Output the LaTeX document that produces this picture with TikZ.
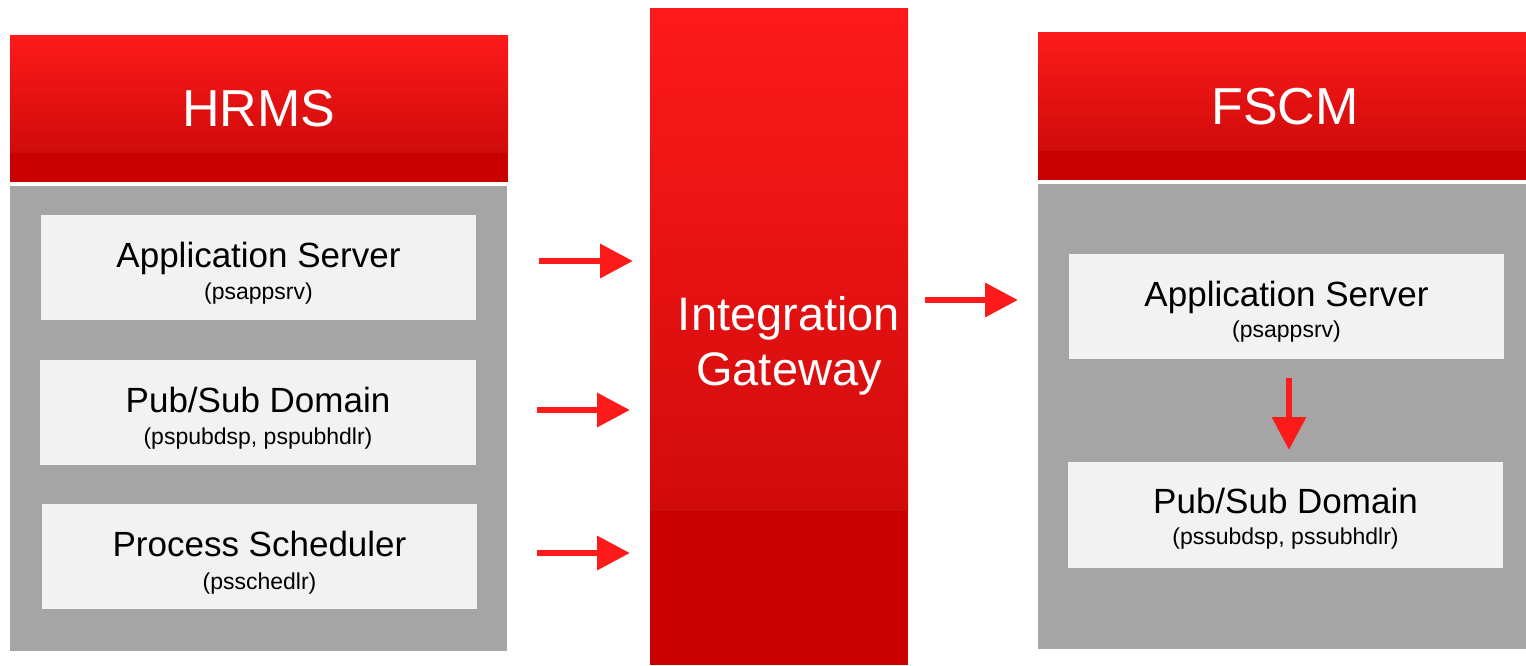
\documentclass[tikz,border=0pt]{standalone}
\usepackage{fontspec}
\setmainfont{Liberation Sans}
\usetikzlibrary{arrows.meta}
\definecolor{hibright}{RGB}{253,26,26}
\definecolor{himid}{RGB}{208,11,11}
\definecolor{hidark}{RGB}{201,0,0}
\definecolor{panelgray}{RGB}{165,165,165}
\definecolor{boxgray}{RGB}{242,242,242}
\definecolor{arrred}{RGB}{253,26,26}
\begin{document}
\begin{tikzpicture}[x=1pt,y=-1pt,
  rectnode/.style={inner sep=0pt,outer sep=0pt,draw=none},
  panel/.style={rectnode,fill=panelgray,minimum width=#1},
  panel/.default=497pt,
  compbox/.style={rectnode,fill=boxgray,minimum width=435pt,minimum height=105pt},
  hdrtext/.style={text=white,font=\fontsize{52}{60}\selectfont,inner sep=0pt},
  gwtext/.style={text=white,font=\fontsize{47}{55}\selectfont,inner sep=0pt,anchor=base},
  maintext/.style={font=\fontsize{35}{40}\selectfont,inner sep=0pt,anchor=base},
  subtext/.style={font=\fontsize{23}{27}\selectfont,inner sep=0pt,anchor=base},
  arr/.style={draw=arrred,line width=6.5pt,-{Triangle[length=33pt,width=33pt]}}
]
\useasboundingbox (0,0) rectangle (1526,665);

% ---------- HRMS ----------
\fill[hidark] (10,35) rectangle (508,182);
\shade[top color=hibright,bottom color=himid] (10,35) rectangle (508,152);
\node[hdrtext] (hrms) at (259,109) {HRMS};
\node[panel,minimum height=465pt] (hpanel) at (258.5,418.5) {};

\node[compbox] (happ) at (258.5,267.5) {};
\node[maintext] (happt) at ([yshift=-52pt]happ.north) {Application Server};
\node[subtext] (happs) at ([yshift=-84pt]happ.north) {(psappsrv)};

\node[compbox,minimum width=436pt] (hpub) at (258,412.5) {};
\node[maintext] (hpubt) at ([yshift=-52pt]hpub.north) {Pub/Sub Domain};
\node[subtext] (hpubs) at ([yshift=-84pt]hpub.north) {(pspubdsp, pspubhdlr)};

\node[compbox] (hsch) at (259.5,556.5) {};
\node[maintext] (hscht) at ([yshift=-52pt]hsch.north) {Process Scheduler};
\node[subtext] (hschs) at ([yshift=-85pt]hsch.north) {(psschedlr)};

% ---------- Gateway ----------
\node[rectnode,fill=hidark,minimum width=258pt,minimum height=657pt] (gw) at (779,336.5) {};
\shade[top color=hibright,bottom color=himid] (650,8) rectangle (908,510);
\node[gwtext] (gw1) at (789,330) {Integration};
\node[gwtext] (gw2) at (789,385) {Gateway};

% ---------- FSCM ----------
\fill[hidark] (1038,32) rectangle (1526,180);
\shade[top color=hibright,bottom color=himid] (1038,32) rectangle (1526,150);
\node[hdrtext] (fscm) at (1285,106.5) {FSCM};
\node[panel=488pt,minimum height=465pt] (fpanel) at (1282,416.5) {};

\node[compbox] (fapp) at (1286.5,306.5) {};
\node[maintext] (fappt) at ([yshift=-52pt]fapp.north) {Application Server};
\node[subtext] (fapps) at ([yshift=-83pt]fapp.north) {(psappsrv)};

\node[compbox,minimum height=106pt] (fpub) at (1285.5,515) {};
\node[maintext] (fpubt) at ([yshift=-51pt]fpub.north) {Pub/Sub Domain};
\node[subtext] (fpubs) at ([yshift=-82pt]fpub.north) {(pssubdsp, pssubhdlr)};

% ---------- Arrows ----------
\draw[arr,shorten <=63pt,shorten >=17pt] (happ.east |- 0,261) -- (gw.west |- 0,261);
\draw[arr,shorten <=61pt,shorten >=20pt] (hpub.east |- 0,410) -- (gw.west |- 0,410);
\draw[arr,shorten <=60pt,shorten >=20pt] (hsch.east |- 0,553) -- (gw.west |- 0,553);
\draw[arr,shorten <=17pt,shorten >=20pt] (gw.east |- 0,300) -- (fpanel.west |- 0,300);
\draw[arr,shorten <=19pt,shorten >=12pt] (fapp.south -| 1289,0) -- (fpub.north -| 1289,0);
\end{tikzpicture}
\end{document}
